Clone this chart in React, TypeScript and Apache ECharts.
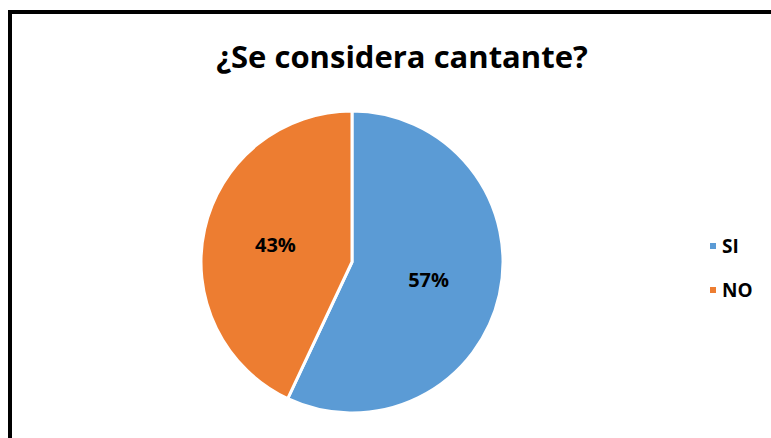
import React, { useEffect, useRef } from "react";
import * as echarts from "echarts";

const categories = ["SI", "NO"];
const values = [57, 43];
const colors = ["#5B9BD5", "#ED7D31"];
const titleText = "¿Se considera cantante?";

export default function App() {
  const ref = useRef<HTMLDivElement>(null);
  useEffect(() => {
    if (!ref.current) return;
    const chart = echarts.init(ref.current, undefined, { renderer: "svg" });
    chart.setOption({
      animation: false,
      backgroundColor: "transparent",
      title: {
        text: titleText,
        left: 397,
        top: 35,
        textAlign: "center",
        textStyle: {
          fontFamily: "'Open Sans', 'Liberation Sans', sans-serif",
          fontWeight: "bold",
          fontSize: 31,
          color: "#000",
        },
      },
      legend: {
        orient: "vertical",
        left: 703,
        top: 231,
        icon: "rect",
        itemWidth: 8,
        itemHeight: 8,
        itemGap: 24,
        data: categories,
        textStyle: {
          fontFamily: "'Open Sans', 'Liberation Sans', sans-serif",
          fontWeight: "bold",
          fontSize: 19,
          lineHeight: 20,
          color: "#000",
        },
      },
      series: [
        {
          type: "pie",
          center: [352, 262],
          radius: 151,
          startAngle: 90,
          clockwise: true,
          label: {
            show: true,
            position: "inside",
            formatter: (p: any) => Math.round(p.percent) + "%",
            fontFamily: "'Open Sans', 'Liberation Sans', sans-serif",
            fontWeight: "bold",
            fontSize: 20,
            color: "#000",
          },
          labelLine: { show: false },
          itemStyle: { borderColor: "#fff", borderWidth: 3 },
          emphasis: { disabled: true },
          data: categories.map((c, i) => ({
            name: c,
            value: values[i],
            itemStyle: { color: colors[i] },
          })),
        },
      ],
    });
    return () => chart.dispose();
  }, []);
  return (
    <div style={{ position: "fixed", left: 0, top: 0, width: 771, height: 438, overflow: "hidden", background: "#fff" }}>
      <div
        style={{
          position: "absolute",
          left: 8,
          top: 10,
          width: 800,
          height: 500,
          borderLeft: "4px solid #000",
          borderTop: "4px solid #000",
          boxSizing: "border-box",
        }}
      />
      <div ref={ref} style={{ position: "absolute", left: 0, top: 0, width: 771, height: 438 }} />
    </div>
  );
}
